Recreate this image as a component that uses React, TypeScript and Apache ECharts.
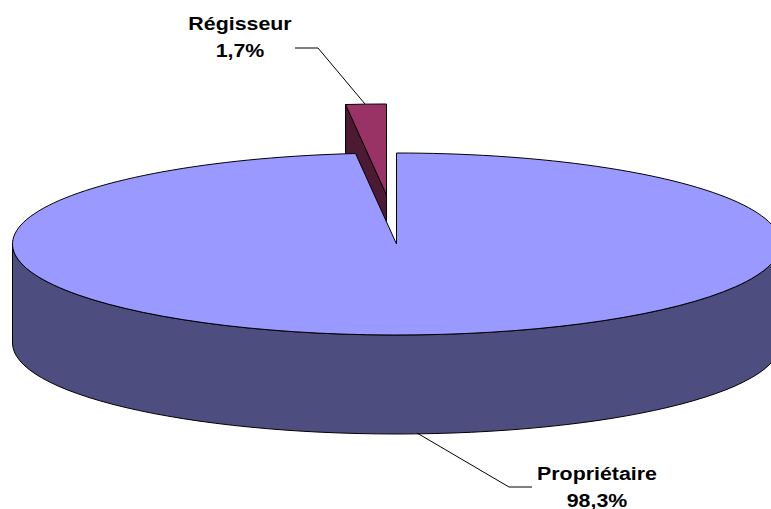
import React, { useEffect, useRef } from "react";
import * as echarts from "echarts";

const categories = ["Propriétaire", "Régisseur"];
const shares = [98.3, 1.7];

const topColors = ["#9999ff", "#993366"];
const sideColors = ["#4d4d80", "#4d1a33"];
// Régisseur is painted first so the main slice covers its lower part.
const paintOrder = [1, 0];

const cx = 396.5;
const cy = 244;
const rx = 384;
const ry = 91;
const depth = 99;
const explode = [-10, -49];
const labelAnchors = [
  [597, 473, 500],
  [240, 23, 50],
];
const leaders = [
  [[417, 433], [509, 487], [532, 487]],
  [[295, 48], [318, 48], [365, 104]],
];
const font = 'bold 19px "Liberation Sans", Arial, sans-serif';
const textStretch = 1.125;
const stroke = { stroke: "#000", lineWidth: 1 };

function point(deg: number, ox: number, oy: number) {
  const a = (deg * Math.PI) / 180;
  return [ox + rx * Math.sin(a), oy - ry * Math.cos(a)];
}

function renderItem(_params: any, api: any) {
  const value = api.value(0);
  const i = api.value(1);
  const total = shares.reduce((s, v) => s + v, 0);
  const before = shares.slice(0, i).reduce((s, v) => s + v, 0);
  const a0 = (before / total) * 360;
  const a1 = a0 + (value / total) * 360;
  const children: any[] = [];

  if (i === 0) {
    const p0 = point(a0, cx, cy);
    const p1 = point(a1, cx, cy);
    const side = `M${cx - rx} ${cy}A${rx} ${ry} 0 0 0 ${cx + rx} ${cy}L${cx + rx} ${cy + depth}A${rx} ${ry} 0 0 1 ${cx - rx} ${cy + depth}Z`;
    const top = `M${cx} ${cy}L${p0[0]} ${p0[1]}A${rx} ${ry} 0 1 1 ${p1[0]} ${p1[1]}Z`;
    children.push(
      { type: "path", shape: { pathData: side }, style: { fill: sideColors[i], ...stroke } },
      { type: "path", shape: { pathData: top }, style: { fill: topColors[i], ...stroke } }
    );
  } else {
    const ox = cx + explode[0];
    const oy = cy + explode[1];
    const p0 = point(a0, ox, oy);
    const p1 = point(a1 >= 360 ? 360 : a1, ox, oy);
    const cut = `M${p0[0]} ${p0[1]}L${ox} ${oy}L${ox} ${oy + depth}L${p0[0]} ${p0[1] + depth}Z`;
    const top = `M${ox} ${oy}L${p0[0]} ${p0[1]}A${rx} ${ry} 0 0 1 ${p1[0]} ${p1[1]}Z`;
    children.push(
      { type: "path", shape: { pathData: cut }, style: { fill: sideColors[i], ...stroke } },
      { type: "path", shape: { pathData: top }, style: { fill: topColors[i], ...stroke } }
    );
  }

  children.push({
    type: "polyline",
    shape: { points: leaders[i] },
    style: { fill: "none", stroke: "#000", lineWidth: 1 },
  });
  const [lx, ly1, ly2] = labelAnchors[i];
  const lines = [categories[i], value.toFixed(1).replace(".", ",") + "%"];
  [ly1, ly2].forEach((y, k) =>
    children.push({
      type: "text",
      x: lx,
      y,
      scaleX: textStretch,
      style: {
        text: lines[k],
        x: 0,
        y: 0,
        font,
        fill: "#000",
        textAlign: "center",
        textVerticalAlign: "middle",
      },
    })
  );
  return { type: "group", children };
}

export default function App() {
  const ref = useRef<HTMLDivElement>(null);
  useEffect(() => {
    document.body.style.margin = "0";
    const chart = echarts.init(ref.current!, undefined, { renderer: "svg" });
    chart.setOption({
      animation: false,
      backgroundColor: "#fff",
      series: [
        {
          type: "custom",
          coordinateSystem: "none",
          silent: true,
          renderItem,
          data: paintOrder.map((i) => [shares[i], i]),
        },
      ],
    });
    return () => chart.dispose();
  }, []);
  return <div ref={ref} style={{ width: 771, height: 509 }} />;
}
